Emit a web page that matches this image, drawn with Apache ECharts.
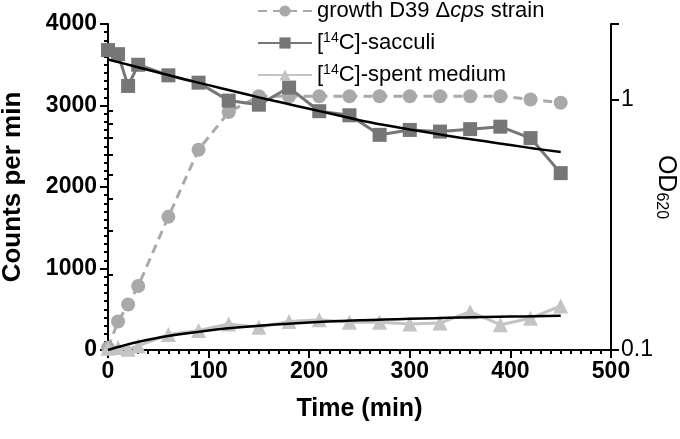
<!DOCTYPE html>
<html>
<head>
<meta charset="utf-8">
<script src="https://cdn.jsdelivr.net/npm/echarts@6/dist/echarts.min.js"></script>
<style>
html,body{margin:0;padding:0;background:#fff;}
#c{width:680px;height:439px;}
</style>
</head>
<body>
<div id="c"></div>
<script>
// ---- data ----
var time = [0, 10, 20, 30, 60, 90, 120, 150, 180, 210, 240, 270, 300, 330, 360, 390, 420, 450];
var growthOD = [0.102, 0.13, 0.152, 0.18, 0.34, 0.63, 0.89, 1.03, 1.03, 1.03, 1.03, 1.03, 1.03, 1.03, 1.03, 1.03, 1.0, 0.97];
var sacculi = [3680, 3630, 3240, 3500, 3370, 3280, 3060, 3010, 3220, 2930, 2880, 2640, 2700, 2680, 2710, 2740, 2600, 2170];
var spent = [20, 30, 10, 50, 190, 240, 320, 280, 350, 370, 340, 340, 320, 330, 470, 310, 390, 540];
var fitTime = [0, 25, 50, 75, 100, 125, 150, 175, 200, 225, 250, 275, 300, 325, 350, 375, 400, 425, 450];
var sacculiFit = [3565, 3485, 3405, 3325, 3250, 3175, 3100, 3030, 2960, 2890, 2820, 2760, 2705, 2655, 2605, 2560, 2515, 2470, 2430];
var spentFit = [0, 85, 150, 200, 240, 272, 298, 320, 338, 352, 364, 374, 383, 391, 398, 404, 410, 415, 420];
var odMajor = [0.1, 1, 2];
var odLabels = [0.1, 1];
var odMinor = [0.2, 0.3, 0.4, 0.5, 0.6, 0.7, 0.8, 0.9];

function pairs(xs, ys) { return xs.map(function (x, i) { return [x, ys[i]]; }); }

var FONT = 'Liberation Sans, Arial, sans-serif';
var chart = echarts.init(document.getElementById('c'));

var legendLabels = {
  growth: 'growth D39 \u0394{i|cps} strain',
  sacculi: '[{sup|14}C]-sacculi',
  spent: '[{sup|14}C]-spent medium'
};

var option = {
  animation: false,
  backgroundColor: '#fff',
  textStyle: { fontFamily: FONT },
  grid: { left: 108, top: 24, width: 503, height: 326, outerBoundsMode: 'none' },
  legend: {
    orient: 'vertical',
    left: 252,
    top: -6,
    itemWidth: 54,
    itemHeight: 14,
    itemGap: 8,
    data: ['growth', 'sacculi', 'spent'],
    formatter: function (n) { return legendLabels[n]; },
    textStyle: {
      fontFamily: FONT, fontSize: 22, color: '#000', lineHeight: 24,
      rich: {
        i: { fontStyle: 'italic', fontSize: 22, fontFamily: FONT, color: '#000' },
        sup: { fontSize: 14, fontFamily: FONT, color: '#000', verticalAlign: 'top', lineHeight: 24, padding: [0, 0, 8, 0] }
      }
    }
  },
  xAxis: {
    type: 'value', min: 0, max: 500, interval: 100,
    name: 'Time (min)', nameLocation: 'middle', nameGap: 47,
    nameTextStyle: { fontFamily: FONT, fontWeight: 'bold', fontSize: 25, color: '#000' },
    axisLine: { show: true, onZero: false, lineStyle: { color: '#000', width: 2 } },
    axisTick: { show: true, length: 8, lineStyle: { color: '#000', width: 2 } },
    minorTick: { show: true, splitNumber: 10, length: 4, lineStyle: { color: '#000', width: 2 } },
    axisLabel: { fontFamily: FONT, fontWeight: 'bold', fontSize: 23, color: '#000', margin: 10,
      formatter: function (v) { return String(v); } },
    splitLine: { show: false }
  },
  yAxis: [
    {
      type: 'value', min: 0, max: 4000, interval: 1000, position: 'left',
      name: 'Counts per min', nameLocation: 'middle', nameGap: 82, nameRotate: 90,
      nameTextStyle: { fontFamily: FONT, fontWeight: 'bold', fontSize: 26, color: '#000' },
      axisLine: { show: true, onZero: false, lineStyle: { color: '#000', width: 2 } },
      axisTick: { show: true, length: 8, lineStyle: { color: '#000', width: 2 } },
      minorTick: { show: true, splitNumber: 10, length: 4, lineStyle: { color: '#000', width: 2 } },
      axisLabel: { fontFamily: FONT, fontWeight: 'bold', fontSize: 23, color: '#000', margin: 11,
        formatter: function (v) { return String(v); } },
      splitLine: { show: false }
    },
    {
      type: 'log', logBase: 10, min: 0.1, max: 2, position: 'right',
      name: 'OD{sub|620}', nameLocation: 'middle', nameGap: 42, nameRotate: -90,
      nameMoveOverlap: false,
      nameTextStyle: {
        fontFamily: FONT, fontSize: 25, color: '#000',
        rich: { sub: { fontFamily: FONT, fontSize: 16, color: '#000', verticalAlign: 'bottom', padding: [8, 0, 0, 0] } }
      },
      axisLine: { show: true, onZero: false, lineStyle: { color: '#000', width: 2 } },
      axisTick: { show: true, length: 8, lineStyle: { color: '#000', width: 2 }, customValues: odMajor },
      axisLabel: { show: true, fontFamily: FONT, fontSize: 23, color: '#000', margin: 10,
        customValues: odLabels,
        formatter: function (v) { return String(Math.round(v * 10) / 10); } },
      splitLine: { show: false }
    },
    {
      // minor ticks of the OD axis
      type: 'log', logBase: 10, min: 0.1, max: 2, position: 'right',
      axisLine: { show: false },
      axisTick: { show: true, length: 5, lineStyle: { color: '#000', width: 2 }, customValues: odMinor },
      axisLabel: { show: false },
      splitLine: { show: false }
    }
  ],
  series: [
    {
      name: 'growth', type: 'line', yAxisIndex: 1, data: pairs(time, growthOD),
      symbol: 'circle', symbolSize: 14,
      itemStyle: { color: '#a9a9a9' },
      lineStyle: { color: '#a9a9a9', width: 3, type: [9, 6] },
      z: 2
    },
    {
      name: 'sacculi', type: 'line', yAxisIndex: 0, data: pairs(time, sacculi),
      symbol: 'rect', symbolSize: 14,
      itemStyle: { color: '#767676' },
      lineStyle: { color: '#767676', width: 3 },
      z: 3
    },
    {
      name: 'spent', type: 'line', yAxisIndex: 0, data: pairs(time, spent),
      symbol: 'triangle', symbolSize: 15,
      itemStyle: { color: '#c4c4c4' },
      lineStyle: { color: '#c4c4c4', width: 3 },
      z: 3
    },
    {
      name: 'sacculiFit', type: 'line', yAxisIndex: 0, data: pairs(fitTime, sacculiFit),
      symbol: 'none', smooth: 0.3,
      lineStyle: { color: '#000', width: 2.5 }, z: 4
    },
    {
      name: 'spentFit', type: 'line', yAxisIndex: 0, data: pairs(fitTime, spentFit),
      symbol: 'none', smooth: 0.3,
      lineStyle: { color: '#000', width: 2.5 }, z: 4
    }
  ]
};
chart.setOption(option);
</script>
</body>
</html>
